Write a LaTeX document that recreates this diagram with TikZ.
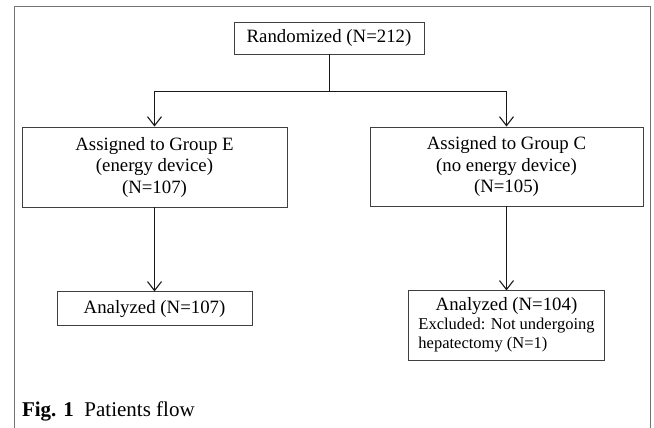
\documentclass[tikz,border=0pt]{standalone}
\usepackage{fontspec}
\setmainfont{Liberation Serif}
\usetikzlibrary{arrows.meta,positioning}

\begin{document}
\begin{tikzpicture}[
        x=1pt, y=1pt,
        font=\fontsize{18.8}{21.5}\selectfont,
        node distance=84pt,
        box/.style={rectangle, draw=black!75, line width=0.9pt,
          inner sep=2pt, align=center},
        link/.style={draw=black!90, line width=0.9pt},
        arr/.style={link, -{Straight Barb[length=9pt,width=14pt,line width=1.1pt]}}
      ]
        \useasboundingbox (0,0) rectangle (654,-428);
        \draw[black!55, line width=0.8pt] (14,-428) -- (14,-6) -- (650,-6) -- (650,-428);
        \node[box, minimum width=190pt, minimum height=32pt] (rand) at (329,-38) {Randomized (N=212)};
        \node[box, minimum width=265pt, minimum height=80pt] (grpE) at (154.5,-167)
          {Assigned to Group E\\(energy device)\\(N=107)};
        \node[box, minimum width=273pt, minimum height=79pt] (grpC) at (506.5,-166.5)
          {Assigned to Group C\\(no energy device)\\(N=105)};
        \node[box, minimum width=195pt, minimum height=34pt, below=of grpE] (anaE) {Analyzed (N=107)};
        \node[box, minimum width=196pt, minimum height=70pt, below=of grpC] (anaC)
          {\renewcommand{\arraystretch}{0.884}%
           \begin{tabular}{@{}l@{}}
             \multicolumn{1}{@{}c@{}}{Analyzed (N=104)}\\
             \fontsize{16.5}{19}\selectfont Excluded: Not undergoing\\
             \fontsize{16.5}{19}\selectfont hepatectomy (N=1)
           \end{tabular}};
        \coordinate[below=37pt of rand.south] (split);
        \draw[link] (rand) -- (split);
        \draw[arr] (split) -| (grpE);
        \draw[arr] (split) -| (grpC);
        \draw[arr] (grpE) -- (anaE);
        \draw[arr] (grpC) -- (anaC);
        \node[anchor=base west, font=\fontsize{21}{24}\selectfont] (cap) at (18.5,-416)
          {\textbf{Fig. 1}\enspace Patients flow};
      \end{tikzpicture}
\end{document}
